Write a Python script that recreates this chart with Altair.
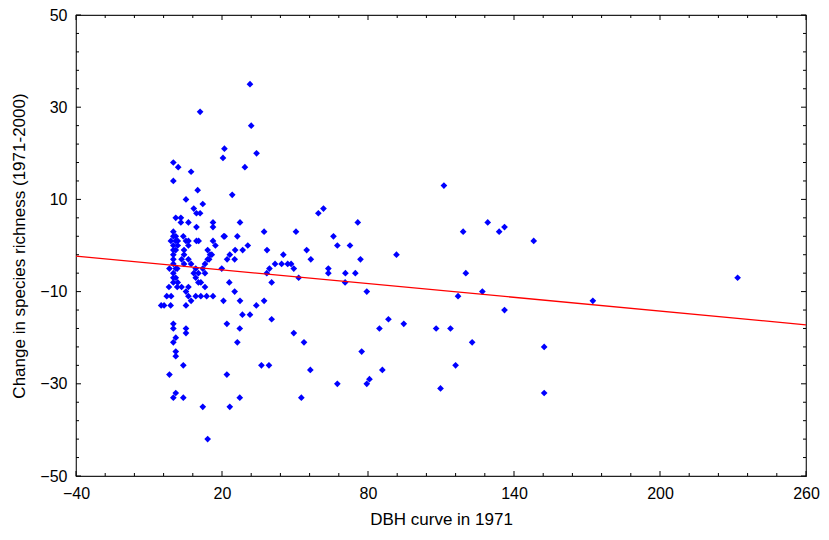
import altair as alt
import pandas as pd

# ---- data ----
x_dbh = [
    31.5, 11, 32, 21, 20.4, 34.2, 0, 2, 7.3, 29.4, 0, 10, 24.2, 5.2, 8.4, 12.1, 9.5, 11, 1, 3.1,
    3.1, 6.2, 16.3, 27.4, 9.5, 16.3, 37.3,
    0, 0, 1, -1, 1, 1.8, 0, 1.8, 0, 1, 0, 0, 0, 1, -1.6, 1.6, 0, 0, 1, 1.8, 0, -1.8, 1.6,
    -2.7, -0.9, -3.8, -1.1, -5,
    5.2, 10.4, 6.2, 9.5, 16.3, 17.3, 20.7, 6.2, 4.4, 14.1, 4.4, 15.1, 15.8, 3.4, 4.4, 6.2,
    14.1, 13, 7.3, 9.2, 19.9, 8.4, 10.3, 12.1, 13, 9.2, 10.3, 11.3, 3.4, 6.2, 13, 5.2, 6.2,
    9.2, 11.3, 13.7, 16.3, 20.6, 5.2, 7.3, 4.1, 14.7,
    21.1, 26.3, 30.6, 25.4, 28.5, 23.2, 38.5, 45.2, 22.1, 25.2, 41.8, 44.5, 47, 48.4, 39.5,
    38.4, 23, 40.4, 25.2, 27.4, 34.1, 37.3, 28.4, 31.5, 40.4,
    0, 0, 5.2, 5.2, 22, 27.3, 1, 0, 26.3, 1, 1, 4.1, 36.2, 39.3, -1.6, 22, 1, 0, 4.1, 27.3,
    12.1, 23.2, 14.1,
    111.2, 61.7, 59.6, 75.8, 50.4, 119.1, 65.8, 67.4, 72.6, 54.8, 56.5, 91.7, 76.9, 49.5,
    63.7, 63.7, 70.7, 74.8, 120.2, 51.5, 70.6, 79.5, 117, 88.4, 84.7, 94.7, 108, 113.9, 49.5,
    122.8, 53.7, 77.4, 56.3, 85.9, 116, 67.4, 79.5, 80.6, 109.8, 52.6, 129.2, 133.9, 136.1,
    148.1, 127, 172.4, 231.9, 136.1, 152.4, 152.4,
]
y_change = [
    35, 29, 26, 21, 19, 20, 18, 17, 16, 17, 14, 12, 11, 10, 8, 9, 7, 7, 6, 6,
    5, 5, 5, 5, 4, 4, 3,
    3, 2, 2, 1, 1, 1, 0, 0, -1, -1, -2, -3, -4, -5, -5, -5, -6, -7, -7, -8, -8, -9, -9,
    -11, -11, -13, -13, -13,
    1, 1, 1, 1, 1, 0, 2, 0, -1, -1, -2, -2, -2, -3, -4, -3,
    -3, -4, -4, -5, -5, -6, -6, -5, -6, -7, -8, -8, -9, -9, -9, -10, -11,
    -11, -11, -11, -11, -12, -13, -12, 2, -3,
    2, 2, 0, -1, -1, -2, -1, -2, -3, -3, -4, -4, -4, -4, -5,
    -6, -8, -8, -10, -12, -13, -12, -15, -15, -16,
    -17, -18, -18, -19, -17, -18, -20, -21, -21, -23, -24, -26, -26, -26, -28, -28, -32, -33, -33, -33,
    -35, -35, -42,
    13, 8, 7, 5, 3, 3, 2, 0, 0, -1, -3, -2, -3, -5,
    -5, -6, -6, -6, -6, -7, -8, -10, -11, -16, -18, -17, -18, -18, -19,
    -21, -21, -23, -27, -27, -26, -30, -30, -29, -31, -33, 5, 3, 4,
    1, -10, -12, -7, -14, -22, -32,
]
fit_x = [-40, 260]
fit_y = [-2.3, -17.2]

x_major = [-40, 20, 80, 140, 200, 260]
y_major = [-50, -30, -10, 10, 30, 50]
x_minor = [v for v in range(-40, 261, 12) if v not in x_major]
y_minor = [v for v in range(-50, 51, 4) if v not in y_major]

pts = pd.DataFrame({"x": x_dbh, "y": y_change})
fit = pd.DataFrame({"x": fit_x, "y": fit_y})

W, H = 730, 461
FONT = "Liberation Sans"
xscale = alt.Scale(domain=[-40, 260], nice=False, zero=False)
yscale = alt.Scale(domain=[-50, 50], nice=False, zero=False)

xaxis = alt.Axis(
    values=x_major, title="DBH curve in 1971", ticks=False, domain=False, grid=False,
    labelFontSize=16, labelPadding=9, labelFont=FONT, labelColor="black",
    labelFlush=False, labelOverlap=False,
    titleFont=FONT, titleFontSize=17, titleFontWeight="normal", titleColor="black",
    titleX=W / 2, titleY=43, titleBaseline="middle", titleAlign="center")
yaxis = alt.Axis(
    values=y_major, title="Change in species richness (1971-2000)", ticks=False,
    domain=False, grid=False, labelFontSize=16, labelPadding=9, labelFont=FONT,
    labelColor="black", labelFlush=False, labelOverlap=False,
    titleFont=FONT, titleFontSize=17, titleFontWeight="normal",
    titleColor="black", titleX=-57, titleY=H / 2, titleBaseline="middle",
    titleAlign="center", titleAngle=-90)

points = alt.Chart(pts).mark_point(
    shape="diamond", filled=True, size=45, color="#0000FF", opacity=1, strokeWidth=0
).encode(
    x=alt.X("x:Q", scale=xscale, axis=xaxis),
    y=alt.Y("y:Q", scale=yscale, axis=yaxis),
)

line = alt.Chart(fit).mark_line(color="#FF0000", strokeWidth=1.3).encode(
    x=alt.X("x:Q", scale=xscale, axis=xaxis),
    y=alt.Y("y:Q", scale=yscale, axis=yaxis),
)


def xticks(vals, length):
    df = pd.DataFrame({"x": vals})
    bottom = alt.Chart(df).mark_rule(color="black", strokeWidth=1).encode(
        x=alt.X("x:Q", scale=xscale, axis=xaxis), y=alt.value(H), y2=alt.value(H - length))
    top = alt.Chart(df).mark_rule(color="black", strokeWidth=1).encode(
        x=alt.X("x:Q", scale=xscale, axis=xaxis), y=alt.value(0), y2=alt.value(length))
    return [bottom, top]


def yticks(vals, length):
    df = pd.DataFrame({"y": vals})
    left = alt.Chart(df).mark_rule(color="black", strokeWidth=1).encode(
        y=alt.Y("y:Q", scale=yscale, axis=yaxis), x=alt.value(0), x2=alt.value(length))
    right = alt.Chart(df).mark_rule(color="black", strokeWidth=1).encode(
        y=alt.Y("y:Q", scale=yscale, axis=yaxis), x=alt.value(W), x2=alt.value(W - length))
    return [left, right]


layers = [points, line] + xticks(x_major, 5) + xticks(x_minor, 3) + yticks(y_major, 5) + yticks(y_minor, 3)

chart = alt.layer(*layers).properties(
    width=W, height=H,
    autosize=alt.AutoSizeParams(type="none"),
    padding={"left": 68, "top": 7, "right": 15, "bottom": 51},
    background="white",
).configure_view(stroke="#222222", strokeWidth=1.2)

chart.save("out.html", embed_options={"renderer": "svg", "actions": False})
